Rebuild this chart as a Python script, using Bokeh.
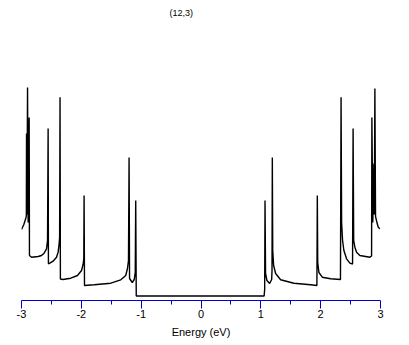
from bokeh.plotting import figure
from bokeh.models import Range1d, FixedTicker, Label
from bokeh.embed import file_html
from bokeh.resources import INLINE

title_text = "(12,3)"
x_label = "Energy (eV)"
major_ticks = [-3, -2, -1, 0, 1, 2, 3]
minor_ticks = [-2.5, -1.5, -0.5, 0.5, 1.5, 2.5]
tick_labels = ["-3", "-2", "-1", "0", "1", "2", "3"]

# Density of states (energy in eV, DOS in arbitrary units)
energy = [
    -3.000, -2.961, -2.924, -2.919, -2.916, -2.909, -2.899, -2.889, -2.872, -2.867,
    -2.832, -2.722, -2.665, -2.622, -2.582, -2.565, -2.555, -2.550, -2.527, -2.472,
    -2.415, -2.388, -2.371, -2.363, -2.356, -2.350, -2.310, -2.176, -2.064, -1.997,
    -1.971, -1.959, -1.954, -1.947, -1.787, -1.508, -1.341, -1.258, -1.229, -1.212,
    -1.202, -1.194, -1.149, -1.116, -1.099, -1.091, -1.082,
    1.055, 1.064, 1.070, 1.079, 1.102, 1.147, 1.181, 1.187, 1.192, 1.199,
    1.214, 1.247, 1.331, 1.553, 1.832, 1.937, 1.944, 1.951, 1.971, 2.027,
    2.166, 2.331, 2.341, 2.350, 2.366, 2.388, 2.433, 2.488, 2.533, 2.542,
    2.552, 2.572, 2.600, 2.655, 2.822, 2.851, 2.856, 2.871, 2.889, 2.897,
    2.906, 2.917, 2.946, 2.963, 2.989,
]
dos = [
    7.10, 7.60, 8.30, 8.50, 16.70, 8.60, 21.30, 7.80, 18.30, 4.50,
    4.33, 4.40, 4.50, 4.73, 5.17, 6.00, 17.20, 3.67, 3.73, 3.93,
    4.33, 4.83, 5.67, 6.33, 20.33, 2.15, 2.10, 2.23, 2.50, 3.00,
    3.60, 4.20, 10.50, 1.50, 1.57, 1.73, 2.07, 2.50, 3.20, 4.00,
    14.30, 2.20, 1.80, 2.10, 2.80, 10.00, 0.45,
    0.45, 1.10, 10.00, 2.70, 2.00, 1.70, 2.10, 3.00, 14.30, 5.00,
    3.50, 2.70, 2.07, 1.73, 1.57, 1.50, 10.50, 3.80, 2.80, 2.33,
    2.17, 2.10, 20.33, 7.80, 6.00, 5.00, 4.17, 3.73, 3.65, 17.20,
    6.00, 5.33, 4.83, 4.50, 4.33, 4.45, 18.30, 7.80, 13.70, 8.60,
    21.20, 8.40, 7.67, 7.33, 7.17,
]

BLUE = "#0000cc"
FONT = "Liberation Sans"

p = figure(width=401, height=341, output_backend="svg", toolbar_location=None,
           x_range=Range1d(-3, 3), y_range=Range1d(0, 29.2),
           min_border_left=21, min_border_right=21, min_border_top=8,
           min_border_bottom=41)

p.line(energy, dos, line_color="black", line_width=1.4)

p.yaxis.visible = False
p.xgrid.visible = False
p.ygrid.visible = False
p.outline_line_color = None

ax = p.xaxis[0]
ax.ticker = FixedTicker(ticks=major_ticks, minor_ticks=minor_ticks)
ax.major_label_overrides = {t: s for t, s in zip(major_ticks, tick_labels)}
ax.axis_line_color = BLUE
ax.axis_line_width = 1
ax.major_tick_line_color = BLUE
ax.minor_tick_line_color = BLUE
ax.major_tick_in = 0
ax.major_tick_out = 8
ax.minor_tick_in = 0
ax.minor_tick_out = 4
ax.major_label_standoff = 1
ax.major_label_text_font = FONT
ax.major_label_text_font_size = "11px"
ax.major_label_text_color = "black"
ax.axis_label = x_label
ax.axis_label_text_font = FONT
ax.axis_label_text_font_size = "11px"
ax.axis_label_text_font_style = "normal"
ax.axis_label_standoff = 5
ax.axis_label_text_color = "black"

p.add_layout(Label(x=-0.33, y=28.8, text=title_text, text_font=FONT,
                   text_font_size="9px", text_align="center",
                   text_baseline="middle", text_color="black"))

open("out.html", "w").write(file_html(p, INLINE))
